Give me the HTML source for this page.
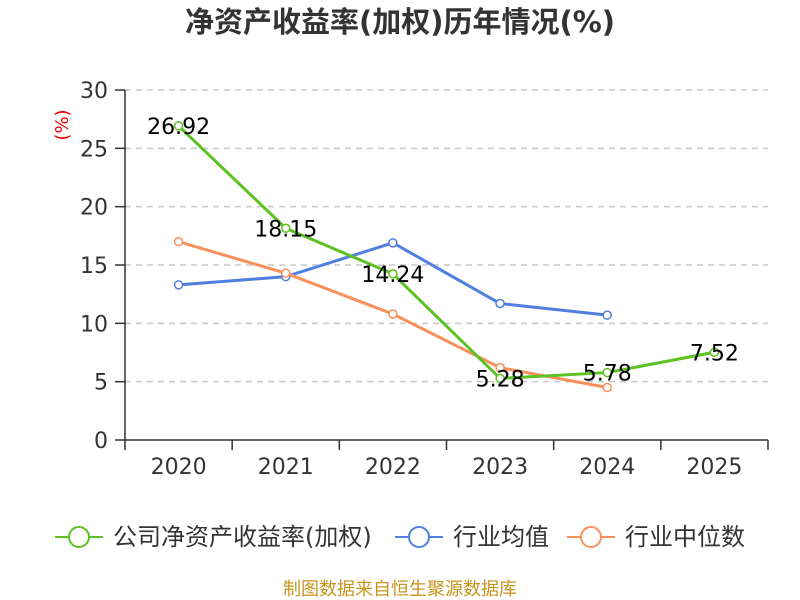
<!DOCTYPE html>
<html><head><meta charset="utf-8"><style>
body{margin:0;background:#fff;}
svg{display:block;font-family:"DejaVu Sans","Noto Sans CJK SC",sans-serif;}
</style></head><body>
<svg id="c" width="800" height="600">
<text x="400" y="32" text-anchor="middle" font-size="29" font-weight="bold" fill="#333">净资产收益率(加权)历年情况(%)</text>
<text transform="translate(68,125) rotate(-90)" text-anchor="middle" font-size="18" fill="#e00">(%)</text>
<g id="grid"></g><g id="axes"></g><g id="series"></g>
<g id="legend"></g>
<text x="400" y="595" text-anchor="middle" font-size="18" fill="#c8941c">制图数据来自恒生聚源数据库</text>
</svg>
<script>
const categories=["2020","2021","2022","2023","2024","2025"];
const yTicks=[0,5,10,15,20,25,30];
const roe=[26.92,18.15,14.24,5.28,5.78,7.52];
const industryAvg=[13.3,14.0,16.9,11.7,10.7];
const industryMedian=[17.0,14.3,10.8,6.2,4.5];
const roeLabels=["26.92","18.15","14.24","5.28","5.78","7.52"];
const NS="http://www.w3.org/2000/svg";
const L=125,R=768,T=90,B=440;
const bw=(R-L)/categories.length;
const x=i=>L+bw*(i+0.5);
const y=v=>B-(v/30)*(B-T);
function mk(tag,attrs,parent){const e=document.createElementNS(NS,tag);for(const k in attrs)e.setAttribute(k,attrs[k]);parent.appendChild(e);return e;}
const grid=document.getElementById('grid'),axes=document.getElementById('axes'),ser=document.getElementById('series'),leg=document.getElementById('legend');
yTicks.forEach(t=>{
 if(t>0){const g=mk('line',{x1:L,x2:R,y1:y(t),y2:y(t),stroke:'#c8c8c8','stroke-dasharray':'6,5','stroke-width':1.5},grid);
 
 }
 const tk=mk('line',{x1:L-10,x2:L,y1:y(t),y2:y(t),stroke:'#333','stroke-width':1.5},axes);
 
 
 const tl=mk('text',{x:L-17,y:y(t)+8,'text-anchor':'end','font-size':22,fill:'#333'},axes);tl.textContent=t;
 
 
});
const ya=mk('line',{x1:L,x2:L,y1:T,y2:B,stroke:'#333','stroke-width':1.5},axes);


const xa=mk('line',{x1:L,x2:R,y1:B,y2:B,stroke:'#333','stroke-width':1.5},axes);


for(let i=0;i<=categories.length;i++){const t=mk('line',{x1:L+bw*i,x2:L+bw*i,y1:B,y2:B+10,stroke:'#333','stroke-width':1.5},axes);
 
 }
categories.forEach((c,i)=>{const t=mk('text',{x:x(i),y:B+34,'text-anchor':'middle','font-size':22,fill:'#333'},axes);t.textContent=c;
 
 });
function series(data,color,name){
 const g=mk('g',{},ser);
 
 
 const p=mk('polyline',{points:data.map((v,i)=>x(i)+','+y(v)).join(' '),fill:'none',stroke:color,'stroke-width':3},g);
 
 
 data.forEach((v,i)=>{const c=mk('circle',{cx:x(i),cy:y(v),r:4,fill:'#fff',stroke:color,'stroke-width':1.5},g);
  
  });
}
series(industryAvg,'#4f7fe0','industry-average');
series(industryMedian,'#f98f5a','industry-median');
series(roe,'#5bc221','roe');
roe.forEach((v,i)=>{const t=mk('text',{x:x(i),y:y(v)+8,'text-anchor':'middle','font-size':22,fill:'#000'},ser);t.textContent=roeLabels[i];
 
 });
[["公司净资产收益率(加权)",'#5bc221',55],["行业均值",'#4f7fe0',395],["行业中位数",'#f98f5a',567]].forEach(([n,c,lx])=>{
 const g=mk('g',{},leg);
 
 
 mk('line',{x1:lx,x2:lx+48,y1:537,y2:537,stroke:c,'stroke-width':2},g);
 mk('circle',{cx:lx+24,cy:537,r:10,fill:'#fff',stroke:c,'stroke-width':2},g);
 const t=mk('text',{x:lx+58,y:545,'font-size':24,fill:'#333'},g);t.textContent=n;
});
</script>
</body></html>
